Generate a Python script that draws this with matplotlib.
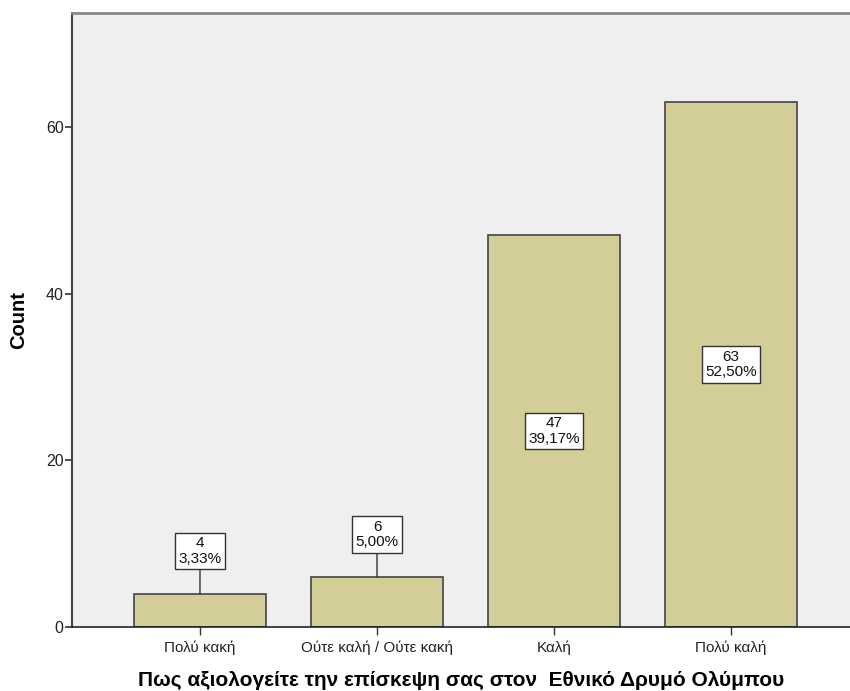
import matplotlib
matplotlib.use('Agg')
import matplotlib.pyplot as plt

categories = ['Πολύ κακή', 'Ούτε καλή / Ούτε κακή', 'Καλή', 'Πολύ καλή']
counts = [4, 6, 47, 63]
percents = ['3,33%', '5,00%', '39,17%', '52,50%']

plt.rcParams['font.family'] = ['Liberation Sans', 'DejaVu Sans']

fig = plt.figure(figsize=(8.5, 6.91), dpi=100)
ax = fig.add_axes([72 / 850, 64 / 691, 778 / 850, 614 / 691])
ax.set_facecolor('#efefef')

x = range(len(categories))
ax.bar(x, counts, width=0.746, color='#d3ce97', edgecolor='#444444', linewidth=1.2, zorder=2)

box = dict(boxstyle='square,pad=0.22', facecolor='white', edgecolor='#333333', linewidth=1)
for i, (c, p) in enumerate(zip(counts, percents)):
    label = f'{c}\n{p}'
    if c < 10:
        # small bars: label sits above with a leader line
        ax.annotate(label, xy=(i, c), xytext=(0, 20), textcoords='offset points',
                    ha='center', va='bottom', fontsize=11, linespacing=1.15, bbox=box,
                    color='#111111',
                    arrowprops=dict(arrowstyle='-', color='#333333', lw=1,
                                    shrinkA=0, shrinkB=0), zorder=3)
    else:
        ax.text(i, c / 2, label, ha='center', va='center', fontsize=11,
                linespacing=1.15, bbox=box, color='#111111', zorder=3)

ax.set_xlim(-0.723, 3.672)
ax.set_ylim(0, 73.7)
ax.set_yticks([0, 20, 40, 60])
ax.set_xticks(list(x))
ax.set_xticklabels(categories, fontsize=11, color='#222222')
ax.tick_params(axis='y', labelsize=11.5, labelcolor='#222222', length=5, width=1.2,
               color='#333333', pad=1)
ax.tick_params(axis='x', length=6, width=1, color='#333333', pad=4)

ax.spines['right'].set_visible(False)
ax.spines['top'].set_color('#888888')
ax.spines['top'].set_linewidth(2)
ax.spines['left'].set_color('#444444')
ax.spines['left'].set_linewidth(1.5)
ax.spines['bottom'].set_color('#222222')
ax.spines['bottom'].set_linewidth(1.2)

ax.set_ylabel('Count', fontsize=14.5, fontweight='bold', labelpad=13)
ax.set_xlabel('Πως αξιολογείτε την επίσκεψη σας στον  Εθνικό Δρυμό Ολύμπου',
              fontsize=15, fontweight='bold', labelpad=11)

fig.savefig('out.png', dpi=100)
